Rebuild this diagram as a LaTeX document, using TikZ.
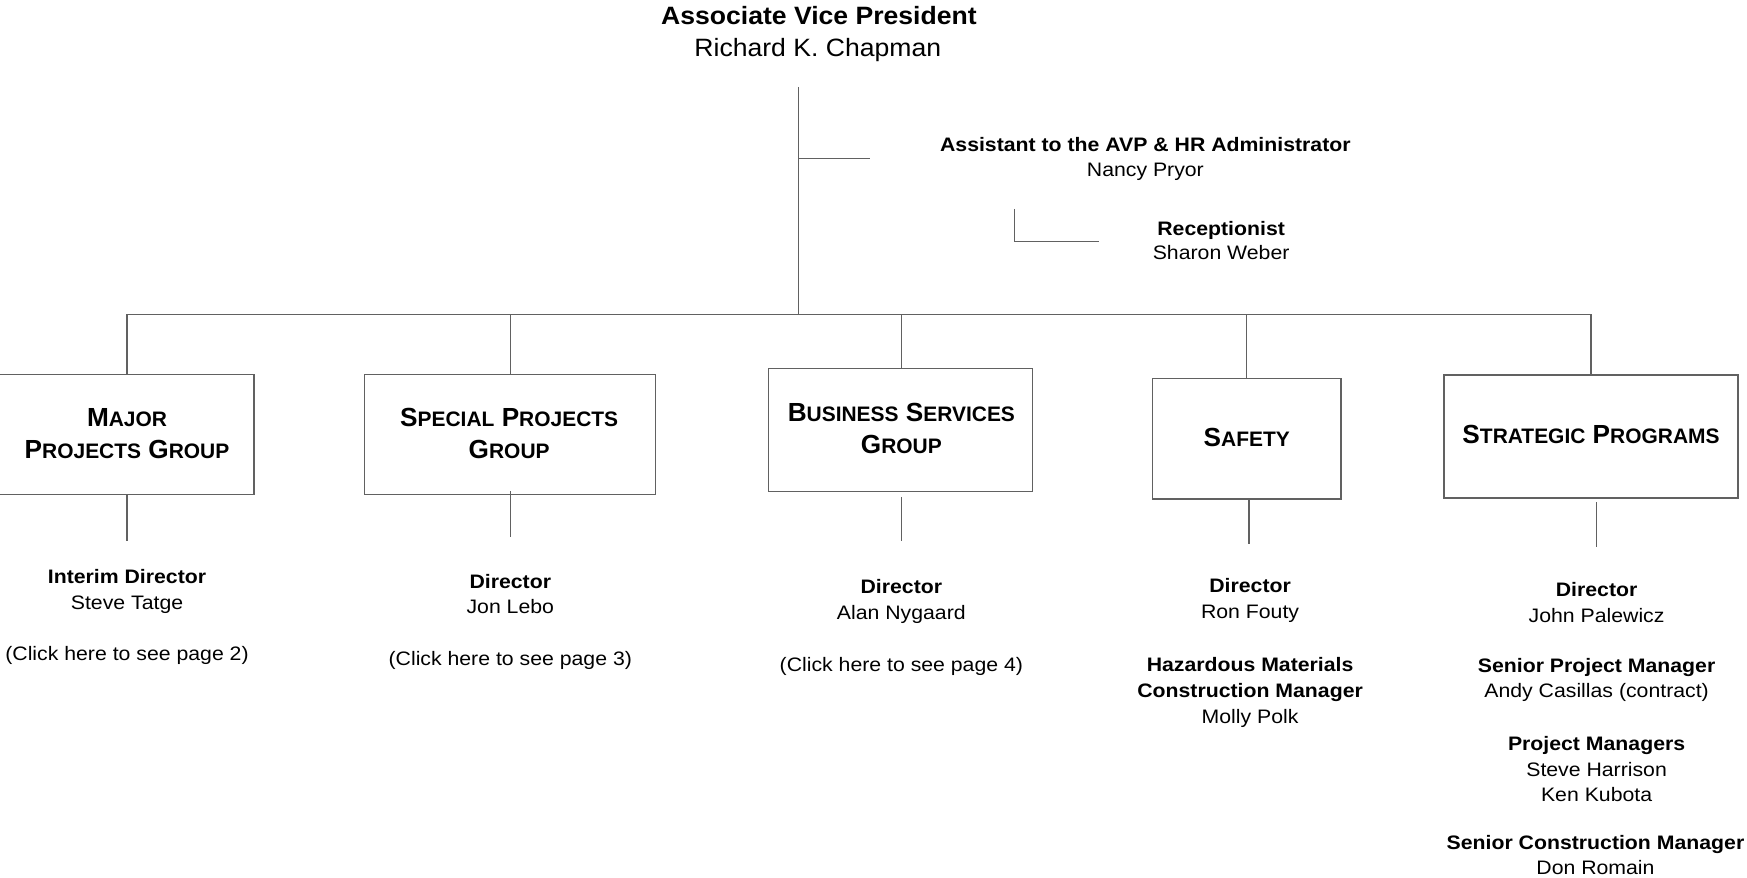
\documentclass[tikz,border=0pt]{standalone}
\usepackage{fontspec}
\setmainfont{Liberation Sans}
\newfontfamily\bodyf{Liberation Sans}[FakeStretch=1.09]
\newfontfamily\ttlf{Liberation Sans}[FakeStretch=1.06]
\newcommand\fcap[2]{#1{\fontsize{18.8}{28}\selectfont #2}}
\tikzset{
  ln/.style={draw=black!62, line width=1.1pt},
  orgbox/.style={draw=black!62, line width=1.1pt, rectangle, inner sep=0pt},
  body/.style={anchor=base, inner sep=0pt, font=\bodyf\fontsize{17.5}{21}\selectfont},
  bbody/.style={anchor=base, inner sep=0pt, font=\bodyf\fontsize{17.5}{21}\selectfont\bfseries},
  ttl/.style={anchor=base, inner sep=0pt, font=\ttlf\fontsize{22.5}{27}\selectfont},
  bttl/.style={anchor=base, inner sep=0pt, font=\ttlf\fontsize{22.5}{27}\selectfont\bfseries},
  grp/.style={anchor=base, inner sep=0pt, font=\fontsize{23.5}{28}\selectfont\bfseries},
}
\begin{document}
\begin{tikzpicture}[x=1pt,y=-1pt]
\useasboundingbox (0,0) rectangle (1568,788);
% top
\node[bttl] (avpt) at (735,22.3) {Associate Vice President};
\node[ttl] (avpn) at (734,51) {Richard K. Chapman};
\node[bbody] (asst) at (1028,136) {Assistant to the AVP \& HR Administrator};
\node[body] (asstn) at (1028,158) {Nancy Pryor};
\node[bbody] (rec) at (1096,211.5) {Receptionist};
\node[body] (recn) at (1096,233) {Sharon Weber};
% coordinates
\coordinate (vtop) at (717,78);
\coordinate (vbar) at (717,282);
\coordinate (abr) at (717,142);
\coordinate (aend) at (781,142);
\coordinate (rtop) at (910.5,187.5);
\coordinate (rcor) at (910.5,217);
\coordinate (rend) at (986,217);
\coordinate (b1) at (114,282);
\coordinate (b2) at (458,282);
\coordinate (b3) at (809,282);
\coordinate (b4) at (1119,282);
\coordinate (b5) at (1428,282);
% boxes
\node[orgbox, minimum width=230pt, minimum height=108pt] (major) at (113,390) {};
\node[orgbox, minimum width=261pt, minimum height=108pt] (special) at (457.5,390) {};
\node[orgbox, minimum width=237pt, minimum height=110pt] (business) at (808.5,386) {};
\node[orgbox, minimum width=169.3pt, minimum height=108pt] (safety) at (1119,393.9) {};
\node[orgbox, minimum width=264pt, minimum height=110.4pt] (strat) at (1428,391.8) {};
% box labels
\node[grp] (ml1) at (114,383) {\fcap{M}{AJOR}};
\node[grp] (ml2) at (114,411.4) {\fcap{P}{ROJECTS} \fcap{G}{ROUP}};
\node[grp] (sl1) at (457,383) {\fcap{S}{PECIAL} \fcap{P}{ROJECTS}};
\node[grp] (sl2) at (457,411.4) {\fcap{G}{ROUP}};
\node[grp] (bl1) at (809,378) {\fcap{B}{USINESS} \fcap{S}{ERVICES}};
\node[grp] (bl2) at (809,407) {\fcap{G}{ROUP}};
\node[grp] (fl1) at (1119,401) {\fcap{S}{AFETY}};
\node[grp] (pl1) at (1428,398) {\fcap{S}{TRATEGIC} \fcap{P}{ROGRAMS}};
% lines
\draw[ln] (vtop) -- (vbar);
\draw[ln] (abr) -- (aend);
\draw[ln] (rtop) -- (rcor) -- (rend);
\draw[ln] (b1) -- (b5);
\draw[ln] (b1) -- (b1 |- major.north);
\draw[ln] (b2) -- (b2 |- special.north);
\draw[ln] (b3) -- (b3 |- business.north);
\draw[ln] (b4) -- (b4 |- safety.north);
\draw[ln] (b5) -- (b5 |- strat.north);
\coordinate (d1a) at (114,444); \coordinate (d1b) at (114,486);
\coordinate (d2a) at (458.5,441); \coordinate (d2b) at (458.5,482);
\coordinate (d3a) at (809,446); \coordinate (d3b) at (809,486);
\coordinate (d4a) at (1121,448); \coordinate (d4b) at (1121,488);
\coordinate (d5a) at (1433,451); \coordinate (d5b) at (1433,491);
\draw[ln] (d1a) -- (d1b);
\draw[ln] (d2a) -- (d2b);
\draw[ln] (d3a) -- (d3b);
\draw[ln] (d4a) -- (d4b);
\draw[ln] (d5a) -- (d5b);
% major
\node[bbody] (m1) at (114,524) {Interim Director};
\node[body] (m2) at (114,547) {Steve Tatge};
\node[body] (m3) at (114,593) {(Click here to see page 2)};
% special
\node[bbody] (s1) at (458,528) {Director};
\node[body] (s2) at (458,551) {Jon Lebo};
\node[body] (s3) at (458,597) {(Click here to see page 3)};
% business
\node[bbody] (c1) at (809,533) {Director};
\node[body] (c2) at (809,556) {Alan Nygaard};
\node[body] (c3) at (809,603) {(Click here to see page 4)};
% safety
\node[bbody] (f1) at (1122,532) {Director};
\node[body] (f2) at (1122,555) {Ron Fouty};
\node[bbody] (f3) at (1122,603) {Hazardous Materials};
\node[bbody] (f4) at (1122,626) {Construction Manager};
\node[body] (f5) at (1122,649) {Molly Polk};
% strategic
\node[bbody] (p1) at (1433,535.5) {Director};
\node[body] (p2) at (1433,558.5) {John Palewicz};
\node[bbody] (p3) at (1433,604) {Senior Project Manager};
\node[body] (p4) at (1433,626) {Andy Casillas (contract)};
\node[bbody] (p5) at (1433,674) {Project Managers};
\node[body] (p6) at (1433,697) {Steve Harrison};
\node[body] (p7) at (1433,719.5) {Ken Kubota};
\node[bbody] (p8) at (1432,762.5) {Senior Construction Manager};
\node[body] (p9) at (1432,785) {Don Romain};
\end{tikzpicture}
\end{document}
